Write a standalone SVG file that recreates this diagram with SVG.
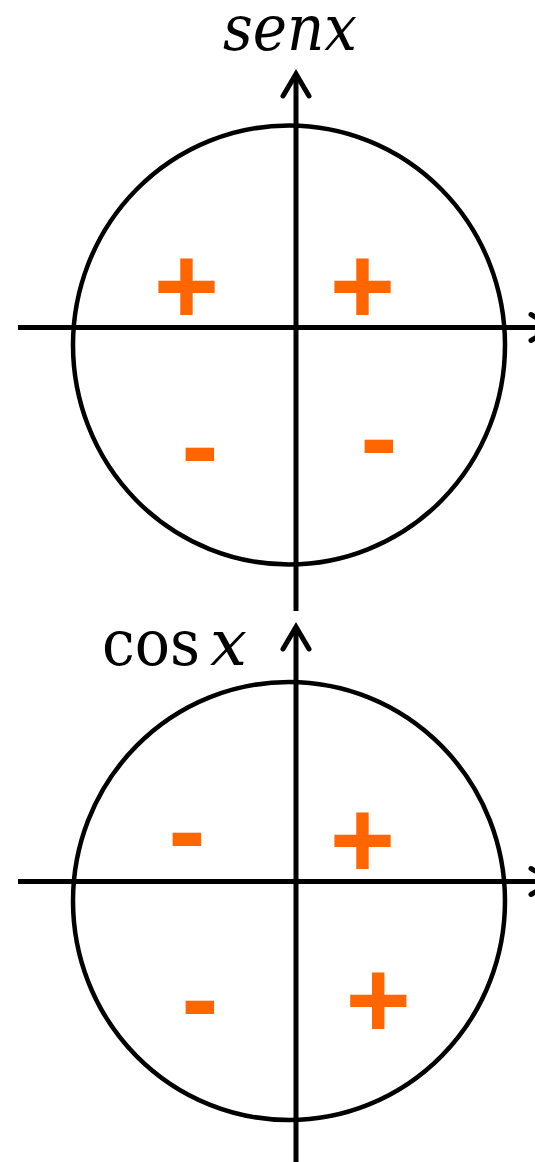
<svg xmlns="http://www.w3.org/2000/svg" width="535" height="1162" viewBox="0 0 535 1162">
<style>
.circ{fill:none;stroke:#000;stroke-width:4.5}
.axis{fill:none;stroke:#000;stroke-width:5}
.head{fill:none;stroke:#000;stroke-width:5;stroke-linecap:round;stroke-linejoin:miter}
.sign{font-family:'Liberation Sans',Arial,sans-serif;font-weight:bold;font-size:112px;fill:#FF6600;text-anchor:middle}
.lbl{font-family:'DejaVu Serif Condensed','DejaVu Serif',serif;font-size:64px;fill:#000}
</style>
<rect width="535" height="1162" fill="#fff"/>
<g id="sen-chart">
  <ellipse class="circ" cx="289" cy="345" rx="216" ry="219.5"/>
  <text class="lbl" x="223" y="50" font-style="italic" textLength="134" lengthAdjust="spacingAndGlyphs">senx</text>
  <text class="sign" x="186.5" y="324">+</text>
  <text class="sign" x="362.5" y="324">+</text>
  <text class="sign" x="200" y="483">-</text>
  <text class="sign" x="379" y="475">-</text>
</g>
<g id="cos-chart">
  <ellipse class="circ" cx="289" cy="901" rx="216" ry="219"/>
  <text class="lbl" x="102" y="665" textLength="98" lengthAdjust="spacingAndGlyphs">cos</text>
  <text class="lbl" x="210" y="665" font-style="italic" textLength="37" lengthAdjust="spacingAndGlyphs">x</text>
  <text class="sign" x="187" y="868">-</text>
  <text class="sign" x="362.5" y="877.5">+</text>
  <text class="sign" x="200" y="1036">-</text>
  <text class="sign" x="378.3" y="1037.5">+</text>
</g>
<g id="connectors">
  <line class="axis" x1="296" y1="611" x2="296" y2="75"/>
  <polyline class="head" points="283,96 296,74 309,96"/>
  <line class="axis" x1="18" y1="327.5" x2="552" y2="327.5"/>
  <polyline class="head" points="531,314.5 553,327.5 531,340.5"/>
  <line class="axis" x1="296" y1="1162" x2="296" y2="628"/>
  <polyline class="head" points="283,649 296,627 309,649"/>
  <line class="axis" x1="18" y1="881.5" x2="552" y2="881.5"/>
  <polyline class="head" points="531,868.5 553,881.5 531,894.5"/>
</g>
</svg>
